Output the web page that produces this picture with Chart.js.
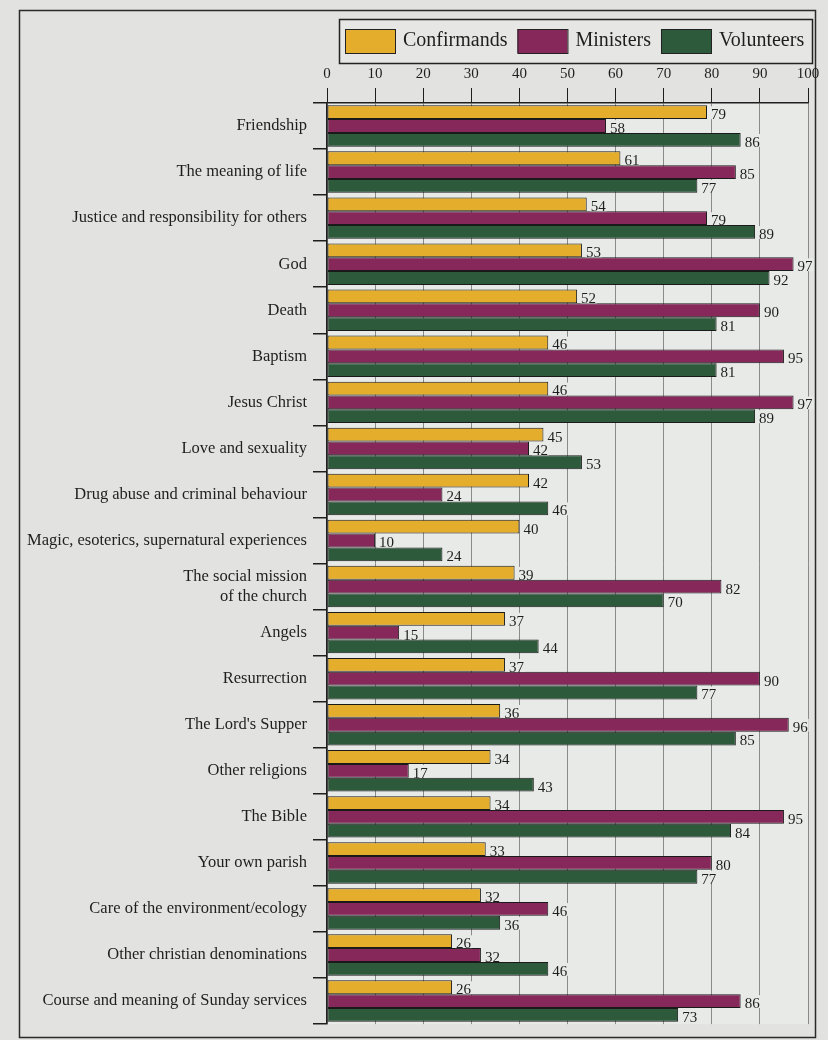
<!DOCTYPE html>
<html>
<head>
<meta charset="utf-8">
<title>Topics - Confirmands, Ministers, Volunteers</title>
<script src="https://cdn.jsdelivr.net/npm/chart.js@4/dist/chart.umd.min.js"></script>
<style>
    html, body { margin: 0; padding: 0; background: #e2e3e1; }
    #wrap { width: 828px; height: 1040px; position: relative; }
</style>
</head>
<body>
<div id="wrap"><canvas id="myBarChart" width="828" height="1040"></canvas></div>
<script>
// categories, top to bottom
const categories = [
    "Friendship",
    "The meaning of life",
    "Justice and responsibility for others",
    "God",
    "Death",
    "Baptism",
    "Jesus Christ",
    "Love and sexuality",
    "Drug abuse and criminal behaviour",
    "Magic, esoterics, supernatural experiences",
    ["The social mission", "of the church"],
    "Angels",
    "Resurrection",
    "The Lord's Supper",
    "Other religions",
    "The Bible",
    "Your own parish",
    "Care of the environment/ecology",
    "Other christian denominations",
    "Course and meaning of Sunday services"
];

// series values (percent)
const confirmands = [79, 61, 54, 53, 52, 46, 46, 45, 42, 40, 39, 37, 37, 36, 34, 34, 33, 32, 26, 26];
const ministers = [58, 85, 79, 97, 90, 95, 97, 42, 24, 10, 82, 15, 90, 96, 17, 95, 80, 46, 32, 86];
const volunteers = [86, 77, 89, 92, 81, 81, 89, 53, 46, 24, 70, 44, 77, 85, 43, 84, 77, 36, 46, 73];

// tick labels on the top axis
const tickValues = [0, 10, 20, 30, 40, 50, 60, 70, 80, 90, 100];

const seriesNames = ["Confirmands", "Ministers", "Volunteers"],
    seriesColors = ["#e4ad2c", "#86285a", "#2e5a3c"];

const serif = "'Liberation Serif', 'DejaVu Serif', serif",
    plotBg = "#e8eae8",
    ctp = document.getElementById('myBarChart').getContext('2d');

// outer frame and plot background
const framePlugin = {
    id: 'frame',
    beforeDraw(chart) {
        const c = chart.ctx, a = chart.chartArea;
        c.save();
        c.fillStyle = plotBg;
        c.fillRect(a.left, a.top, a.right - a.left, a.bottom - a.top);
        c.strokeStyle = "#2a2a2a";
        c.lineWidth = 1.5;
        c.strokeRect(19.5, 10.5, 796, 1027);
        c.restore();
    }
};

// legend drawn in a bordered box above the axis
const legendPlugin = {
    id: 'boxLegend',
    afterDraw(chart) {
        const c = chart.ctx;
        c.save();
        c.fillStyle = "#e6e7e5";
        c.fillRect(339, 19, 473, 44);
        c.strokeStyle = "#222";
        c.lineWidth = 1.5;
        c.strokeRect(339.5, 19.5, 473, 44);
        c.font = "20px " + serif;
        c.textBaseline = "middle";
        let x = 345;
        chart.data.datasets.forEach(ds => {
            c.fillStyle = ds.backgroundColor;
            c.fillRect(x, 29, 50, 24);
            c.strokeStyle = "#222";
            c.lineWidth = 1;
            c.strokeRect(x + 0.5, 29.5, 50, 24);
            c.fillStyle = "#1e1e1e";
            c.fillText(ds.label, x + 58, 41);
            x += 58 + c.measureText(ds.label).width + 10;
        });
        c.restore();
    }
};

// value label at the end of every bar
const valueLabels = {
    id: 'valueLabels',
    afterDatasetsDraw(chart) {
        const c = chart.ctx;
        c.save();
        c.font = "15px " + serif;
        c.textBaseline = "middle";
        chart.data.datasets.forEach((ds, i) => {
            chart.getDatasetMeta(i).data.forEach((bar, j) => {
                const txt = String(ds.data[j]),
                    w = c.measureText(txt).width,
                    x = bar.x + 4,
                    y = bar.y + 3;
                // background only inside this bar's own band
                c.fillStyle = plotBg;
                c.fillRect(x - 1, bar.y - bar.height / 2 + 1, w + 2, bar.height - 1);
                c.fillStyle = "#1e1e1e";
                c.fillText(txt, x, y);
            });
        });
        c.restore();
    }
};

const datasets = [confirmands, ministers, volunteers].map((values, i) => ({
    label: seriesNames[i],
    data: values,
    backgroundColor: seriesColors[i],
    borderColor: "#1a1a1a",
    borderWidth: 1,
    borderSkipped: false,
    categoryPercentage: 0.9,
    barPercentage: 1.0
}));

new Chart(ctp, {
    type: 'bar',
    data: {
        labels: categories,
        datasets: datasets
    },
    plugins: [framePlugin, valueLabels, legendPlugin],
    options: {
        indexAxis: 'y',
        responsive: false,
        animation: false,
        layout: {
            padding: { top: 61, right: 20, bottom: 5, left: 0 }
        },
        plugins: {
            legend: { display: false },
            tooltip: { enabled: false }
        },
        scales: {
            x: {
                position: 'top',
                min: 0,
                max: 100,
                afterBuildTicks: (scale) => {
                    scale.ticks = tickValues.map(v => ({ value: v }));
                },
                afterFit: (scale) => { scale.height = 42; },
                border: { color: "#1e1e1e", width: 1.5 },
                grid: {
                    color: "#8a8a8a",
                    tickColor: "#1e1e1e",
                    tickLength: 15,
                    lineWidth: 1
                },
                ticks: {
                    color: "#1e1e1e",
                    padding: 5,
                    font: { family: serif, size: 15 }
                }
            },
            y: {
                afterFit: (scale) => { scale.width = 327; },
                border: { color: "#1e1e1e", width: 1.5 },
                grid: {
                    drawOnChartArea: false,
                    tickColor: "#1e1e1e",
                    tickLength: 14,
                    lineWidth: 1.5
                },
                ticks: {
                    color: "#1e1e1e",
                    padding: 6,
                    font: { family: serif, size: 16.5 }
                }
            }
        }
    }
});
</script>
</body>
</html>
